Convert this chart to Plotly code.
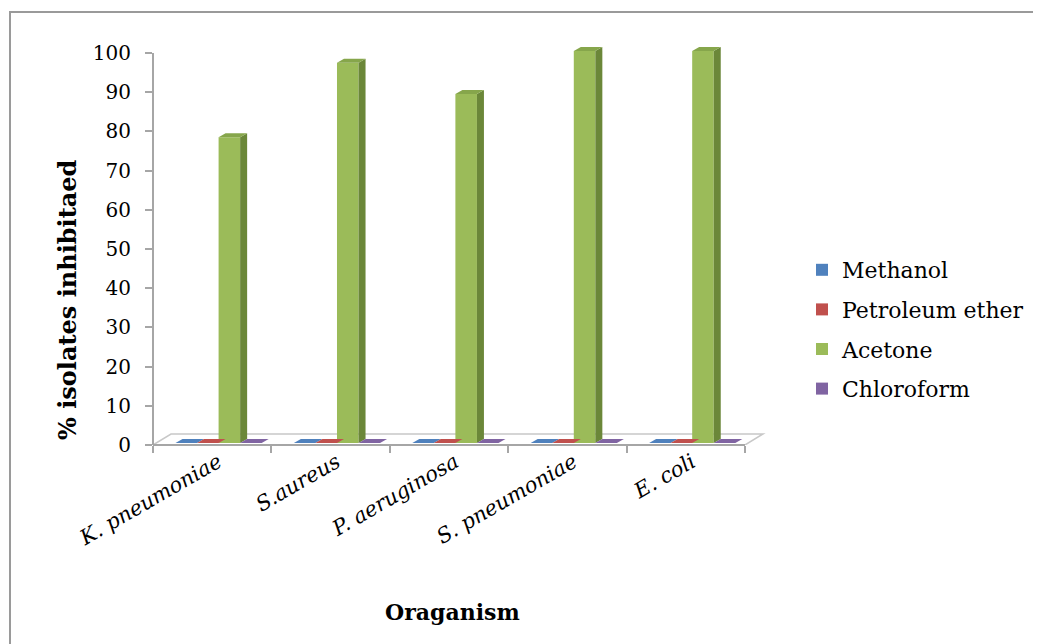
import plotly.graph_objects as go

# ---------------- data ----------------
categories = ["K. pneumoniae", "S.aureus", "P. aeruginosa", "S. pneumoniae", "E. coli"]
series_names = ["Methanol", "Petroleum ether", "Acetone", "Chloroform"]
methanol = [0, 0, 0, 0, 0]
petroleum_ether = [0, 0, 0, 0, 0]
acetone = [78, 97, 89, 100, 100]
chloroform = [0, 0, 0, 0, 0]
y_tick_values = [0, 10, 20, 30, 40, 50, 60, 70, 80, 90, 100]
x_title = "Oraganism"
y_title = "% isolates inhibitaed"

series_values = [methanol, petroleum_ether, acetone, chloroform]
front_colors = ["#4F81BD", "#C0504D", "#9BBB59", "#8064A2"]
top_colors = ["#4A79B2", "#B44A47", "#86A64B", "#785E99"]
side_colors = ["#3B6496", "#983D3B", "#6B8739", "#634E80"]

# ---------------- geometry ----------------
W, H = 1041, 644
ML, MR, MT, MB = 145, 274, 29, 207
plot_w = W - ML - MR
plot_h = H - MT - MB
CAT_PX = 118.4          # px per category
Y_PX = 3.92             # px per y unit
x_lo = -0.5
x_hi = x_lo + plot_w / CAT_PX
y_hi = plot_h / Y_PX


def px2x(p):
    return p / CAT_PX


def px2y(p):
    return p / Y_PX


bar_w = 0.182
offset0 = -0.31
base_shift = px2y(2)
ddx, ddy = px2x(7), px2y(4)          # bar depth
fdx, fdy = px2x(18), px2y(11)        # floor depth
n_cat = len(categories)

fig = go.Figure()
for j, (name, vals) in enumerate(zip(series_names, series_values)):
    fig.add_trace(go.Bar(
        x=categories, y=vals, base=base_shift,
        offset=offset0 + j * bar_w, width=bar_w,
        name=name, legendgroup=name,
        marker=dict(color=front_colors[j], line=dict(width=0)),
    ))

shapes = []
# floor
x_end = x_lo + n_cat
shapes.append(dict(
    type="path", xref="x", yref="y", layer="below",
    path=f"M{x_lo},0 L{x_end},0 L{x_end + fdx},{fdy} L{x_lo + fdx},{fdy} Z",
    fillcolor="white", line=dict(color="#C8C8C8", width=1.5),
))
# 3D faces of bars (computed from the data)
for j, vals in enumerate(series_values):
    for i, v in enumerate(vals):
        xl = i + offset0 + j * bar_w
        xr = xl + bar_w
        yb = base_shift
        yt = base_shift + v
        if v > 0:
            shapes.append(dict(
                type="path", xref="x", yref="y", layer="above",
                path=f"M{xr},{yb} L{xr},{yt} L{xr + ddx},{yt + ddy} L{xr + ddx},{yb + ddy} Z",
                fillcolor=side_colors[j], line=dict(width=0),
            ))
        shapes.append(dict(
            type="path", xref="x", yref="y", layer="above",
            path=f"M{xl},{yt} L{xr},{yt} L{xr + ddx},{yt + ddy} L{xl + ddx},{yt + ddy} Z",
            fillcolor=top_colors[j] if v > 0 else front_colors[j], line=dict(width=0),
        ))

# axis lines (paper coordinates, derived from axis ranges)
frac_x_end = (x_end - x_lo) / (x_hi - x_lo)
frac_y_100 = y_tick_values[-1] / y_hi
shapes.append(dict(type="line", xref="paper", yref="paper", x0=0, x1=frac_x_end, y0=0, y1=0,
                   line=dict(color="#A6A6A6", width=2)))
shapes.append(dict(type="line", xref="paper", yref="paper", x0=0, x1=0, y0=0, y1=frac_y_100,
                   line=dict(color="#A6A6A6", width=2)))
# outer chart frame
shapes.append(dict(type="rect", xref="paper", yref="paper",
                   x0=(2 - ML) / plot_w, x1=1.5, y0=-1.0, y1=(H - 4 - MB) / plot_h,
                   line=dict(color="#9A9A9A", width=2), fillcolor="rgba(0,0,0,0)", layer="below"))

serif = "DejaVu Serif"
plot_bottom = H - MB
annotations = [
    dict(text=f"<b>{y_title}</b>", xref="paper", yref="paper",
         x=(59 - ML) / plot_w, y=(plot_bottom - 292) / plot_h,
         textangle=-90, showarrow=False, xanchor="center", yanchor="middle",
         font=dict(family=serif, size=24, color="black")),
    dict(text=f"<b>{x_title}</b>", xref="paper", yref="paper",
         x=(444 - ML) / plot_w, y=(plot_bottom - 604) / plot_h,
         showarrow=False, xanchor="center", yanchor="middle",
         font=dict(family=serif, size=22, color="black")),
]

fig.update_layout(
    width=W, height=H,
    margin=dict(l=ML, r=MR, t=MT, b=MB, autoexpand=False),
    paper_bgcolor="white", plot_bgcolor="white",
    barmode="overlay",
    shapes=shapes,
    annotations=annotations,
    font=dict(family=serif, color="black"),
    xaxis=dict(
        type="category", categoryorder="array", categoryarray=categories,
        range=[x_lo, x_hi], tickson="boundaries",
        ticks="outside", ticklen=7, tickwidth=1.5, tickcolor="#A6A6A6",
        showline=False, showgrid=False, zeroline=False,
        tickangle=-30, ticklabelshift=6,
        tickfont=dict(family=serif, size=21, style="italic", color="black"),
        automargin=False,
    ),
    yaxis=dict(
        range=[0, y_hi], tickmode="array", tickvals=y_tick_values,
        ticks="outside", ticklen=7, tickwidth=1.5, tickcolor="#A6A6A6",
        showline=False, showgrid=False, zeroline=False,
        tickfont=dict(family=serif, size=20, color="black"),
        ticklabelstandoff=10,
        automargin=False,
    ),
    legend=dict(
        xref="container", yref="container",
        x=794 / W, y=1 - 241 / H, xanchor="left", yanchor="top",
        font=dict(family=serif, size=22, color="black"),
        traceorder="grouped", tracegroupgap=8,
        bgcolor="rgba(0,0,0,0)", borderwidth=0,
    ),
)

fig.write_html("out.html")
